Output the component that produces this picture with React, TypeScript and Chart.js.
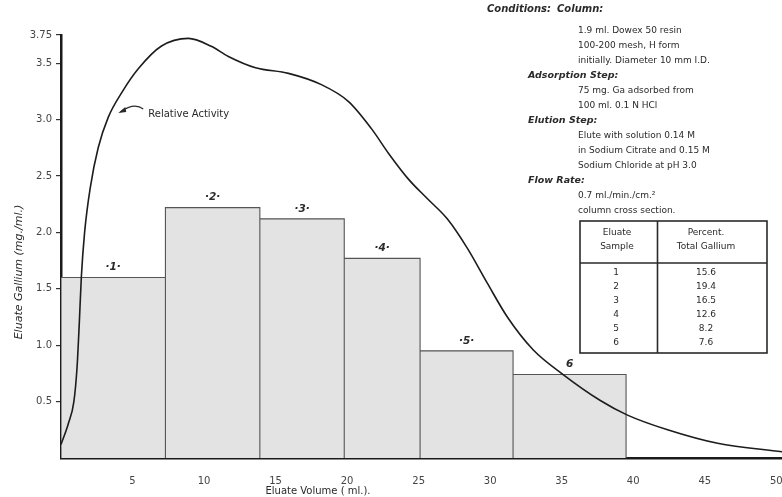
import React, { useEffect, useRef } from 'react';
import { Chart, registerables } from 'chart.js';

Chart.register(...registerables);

// ---- data ----
const binEdges = [0, 7.3, 13.9, 19.8, 25.1, 31.6, 39.5];
const galliumConc = [1.6, 2.22, 2.12, 1.77, 0.95, 0.74];
const sampleLabels = ['·1·', '·2·', '·3·', '·4·', '·5·', '6'];

const activityX = [0, 0.5, 0.9, 1.12, 1.28, 1.42, 1.65, 2.05, 2.6, 3.3, 4.3, 5.4, 7.0, 8.9, 10.5, 11.7, 13.6, 15.9, 18.2, 20.1, 21.7, 22.9, 24.3, 25.6, 27.0, 28.4, 29.8, 31.2, 33.0, 35.1, 37.7, 39.6, 42.4, 45.9, 50.4];
const activityY = [0.12, 0.3, 0.5, 0.8, 1.2, 1.6, 2.0, 2.4, 2.75, 3.02, 3.25, 3.45, 3.65, 3.72, 3.65, 3.56, 3.46, 3.41, 3.31, 3.16, 2.92, 2.7, 2.47, 2.3, 2.12, 1.86, 1.55, 1.25, 0.96, 0.74, 0.51, 0.38, 0.25, 0.13, 0.055];

const xTickValues = [5, 10, 15, 20, 25, 30, 35, 40, 45, 50];
const yTickValues = [0.5, 1.0, 1.5, 2.0, 2.5, 3.0, 3.5, 3.75];
const yTickLabels = ['0.5', '1.0', '1.5', '2.0', '2.5', '3.0', '3.5', '3.75'];

const tableSamples = ['1', '2', '3', '4', '5', '6'];
const tablePercent = ['15.6', '19.4', '16.5', '12.6', '8.2', '7.6'];

const conditionLines: [string, boolean][] = [
  ['1.9 ml. Dowex 50 resin', false],
  ['100-200 mesh, H form', false],
  ['initially. Diameter 10 mm I.D.', false],
  ['Adsorption Step:', true],
  ['75 mg. Ga adsorbed from', false],
  ['100 ml. 0.1 N HCl', false],
  ['Elution Step:', true],
  ['Elute with solution 0.14 M', false],
  ['in Sodium Citrate and 0.15 M', false],
  ['Sodium Chloride at pH 3.0', false],
  ['Flow Rate:', true],
  ['0.7 ml./min./cm.²', false],
  ['column cross section.', false],
];

const FONT = '"DejaVu Sans", "Liberation Sans", sans-serif';
const INK = '#2a2a2a';

const annotations = {
  id: 'annotations',
  afterDraw(chart: any) {
    const ctx = chart.ctx as CanvasRenderingContext2D;
    const xs = chart.scales.x;
    const ys = chart.scales.y;
    ctx.save();
    ctx.fillStyle = INK;
    ctx.strokeStyle = INK;

    // bar labels
    ctx.textAlign = 'center';
    ctx.textBaseline = 'middle';
    for (let i = 0; i < galliumConc.length; i++) {
      const cx = xs.getPixelForValue((binEdges[i] + binEdges[i + 1]) / 2);
      const cy = ys.getPixelForValue(galliumConc[i]) - 10;
      ctx.font = `italic bold 10.5px ${FONT}`;
      ctx.fillText(sampleLabels[i], cx, cy);
    }

    // Relative Activity label + arrow
    const lx = xs.getPixelForValue(6.1);
    const ly = ys.getPixelForValue(3.05);
    ctx.font = `10px ${FONT}`;
    ctx.textAlign = 'left';
    ctx.fillText('Relative Activity', lx, ly);
    ctx.lineWidth = 1.1;
    ctx.beginPath();
    ctx.moveTo(lx - 5, ly - 5);
    ctx.quadraticCurveTo(lx - 14, ly - 12, lx - 28, ly - 2);
    ctx.stroke();
    ctx.beginPath();
    ctx.moveTo(lx - 30, ly - 1);
    ctx.lineTo(lx - 23, ly - 7);
    ctx.lineTo(lx - 22, ly - 2);
    ctx.closePath();
    ctx.fill();

    // axis titles
    ctx.font = `italic 11px ${FONT}`;
    ctx.save();
    ctx.translate(19, 272);
    ctx.rotate(-Math.PI / 2);
    ctx.textAlign = 'center';
    ctx.fillText('Eluate Gallium (mg./ml.)', 0, 0);
    ctx.restore();

    ctx.font = `10px ${FONT}`;
    ctx.textAlign = 'center';
    ctx.fillText('Eluate Volume ( ml.).', 318, 491);

    // conditions
    ctx.textAlign = 'left';
    ctx.font = `italic bold 10px ${FONT}`;
    ctx.fillText('Conditions:', 487, 9);
    ctx.fillText('Column:', 557, 9);
    for (let i = 0; i < conditionLines.length; i++) {
      const [t, head] = conditionLines[i];
      const y = 31 + i * 15;
      if (head) {
        ctx.font = `italic bold 9.5px ${FONT}`;
        ctx.fillText(t, 528, y);
      } else {
        ctx.font = `9px ${FONT}`;
        ctx.fillText(t, 578, y);
      }
    }

    // table
    ctx.lineWidth = 1.6;
    ctx.strokeRect(580, 221, 187, 132);
    ctx.beginPath();
    ctx.moveTo(657.5, 221);
    ctx.lineTo(657.5, 353);
    ctx.moveTo(580, 263);
    ctx.lineTo(767, 263);
    ctx.stroke();
    ctx.font = `9px ${FONT}`;
    ctx.textAlign = 'center';
    ctx.fillText('Eluate', 617, 233);
    ctx.fillText('Sample', 617, 247);
    ctx.fillText('Percent.', 706, 233);
    ctx.fillText('Total Gallium', 706, 247);
    for (let i = 0; i < tableSamples.length; i++) {
      const y = 273 + i * 13.9;
      ctx.fillText(tableSamples[i], 616, y);
      ctx.fillText(tablePercent[i], 706, y);
    }
    ctx.restore();
  },
};

export default function App() {
  const ref = useRef<HTMLCanvasElement | null>(null);
  useEffect(() => {
    document.body.style.margin = '0';
    const canvas = ref.current;
    if (!canvas) return;

    const barPath: { x: number; y: number }[] = [];
    for (let i = 0; i < galliumConc.length; i++) {
      barPath.push({ x: binEdges[i], y: 0 });
      barPath.push({ x: binEdges[i], y: galliumConc[i] });
      barPath.push({ x: binEdges[i + 1], y: galliumConc[i] });
      barPath.push({ x: binEdges[i + 1], y: 0 });
    }
    const curve = activityX.map((x, i) => ({ x, y: activityY[i] }));

    const chart = new Chart(canvas, {
      type: 'scatter',
      data: {
        datasets: [
          {
            label: 'Relative Activity',
            data: curve,
            showLine: true,
            borderColor: '#1c1c1c',
            borderWidth: 1.6,
            pointRadius: 0,
            fill: false,
            cubicInterpolationMode: 'monotone',
            order: 0,
          } as any,
          {
            label: 'Eluate Gallium',
            data: barPath,
            showLine: true,
            borderColor: '#555',
            borderWidth: 1.1,
            backgroundColor: '#e3e3e3',
            pointRadius: 0,
            fill: 'origin',
            tension: 0,
            order: 1,
          } as any,
        ],
      },
      options: {
        responsive: false,
        animation: false,
        devicePixelRatio: 1,
        layout: { padding: { top: 35, right: 0, left: 0, bottom: 0 } },
        plugins: { legend: { display: false }, tooltip: { enabled: false } },
        scales: {
          x: {
            type: 'linear',
            min: 0,
            max: 50.4,
            afterBuildTicks: (s: any) => {
              s.ticks = xTickValues.map((v) => ({ value: v }));
            },
            afterFit: (s: any) => {
              s.height = 39;
              s.paddingLeft = 0;
              s.paddingRight = 0;
            },
            grid: { display: false },
            border: { display: true, width: 2.5, color: '#1a1a1a' },
            ticks: {
              padding: 9,
              color: '#444',
              font: { family: FONT, size: 10 },
              maxRotation: 0,
              autoSkip: false,
            },
          },
          y: {
            type: 'linear',
            min: 0,
            max: 3.75,
            afterBuildTicks: (s: any) => {
              s.ticks = yTickValues.map((v) => ({ value: v }));
            },
            afterFit: (s: any) => {
              s.width = 61;
              s.paddingTop = 0;
              s.paddingBottom = 0;
            },
            grid: {
              display: true,
              drawOnChartArea: false,
              drawTicks: true,
              tickLength: 5,
              color: '#333',
              lineWidth: 1.2,
            },
            border: { display: true, width: 2.5, color: '#1a1a1a' },
            ticks: {
              padding: 4,
              color: '#444',
              font: { family: FONT, size: 10 },
              autoSkip: false,
              callback: (_v: any, i: number) => yTickLabels[i],
            },
          },
        },
      },
      plugins: [annotations],
    });
    return () => chart.destroy();
  }, []);

  return (
    <div style={{ width: 782, height: 497 }}>
      <canvas ref={ref} width={782} height={497} style={{ display: 'block' }} />
    </div>
  );
}
